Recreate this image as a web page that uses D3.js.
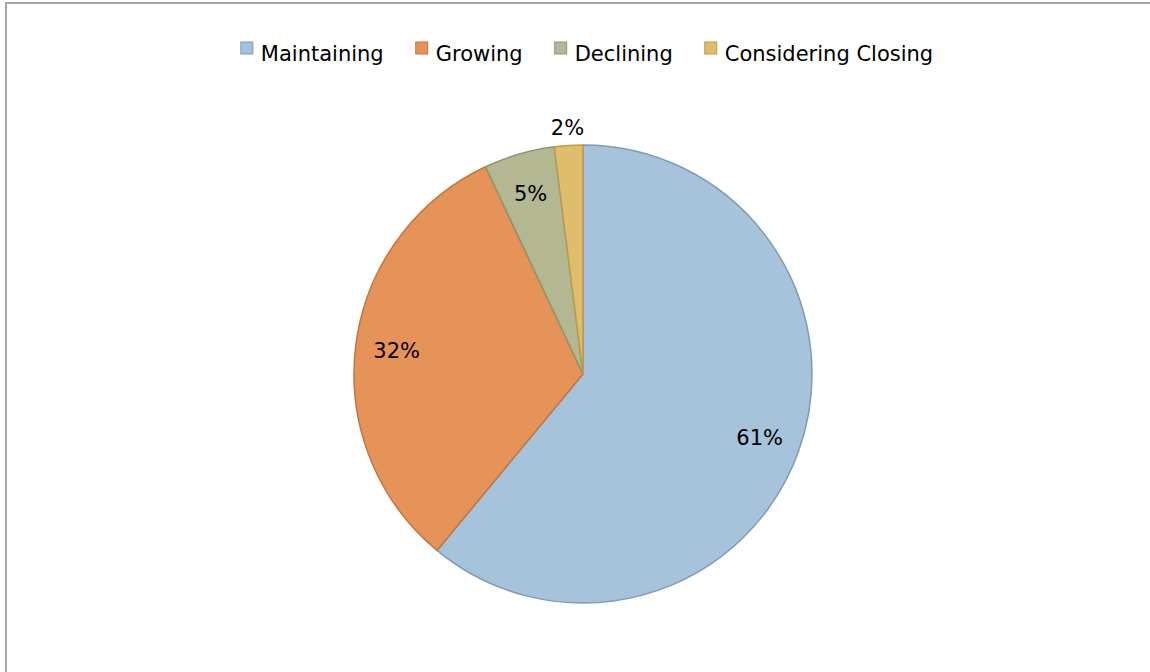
<!DOCTYPE html>
<html>
<head>
<meta charset="utf-8">
<script src="https://cdn.jsdelivr.net/npm/d3@7"></script>
<style>
  html, body { margin: 0; padding: 0; background: #fff; }
  svg { display: block; }
  text { font-family: "DejaVu Sans", "Open Sans", sans-serif; fill: #000; }
</style>
</head>
<body>
<svg id="chart" width="1150" height="672"></svg>
<script>
// Business outlook shares
const categories = ["Maintaining", "Growing", "Declining", "Considering Closing"];
const shares = [61, 32, 5, 2];
const fills = ["#a7c2db", "#e6935a", "#b3b893", "#e0bd6c"];
const strokes = ["#7f9bb4", "#c4743e", "#8e9470", "#bb9a4c"];

const W = 1150, H = 672;
const cx = 583, cy = 374, R = 229;

const svg = d3.select("#chart");

// chart frame (runs off the right and bottom edges)
svg.append("rect")
  .attr("x", 6).attr("y", 3)
  .attr("width", W + 20).attr("height", H + 20)
  .attr("fill", "none")
  .attr("stroke", "#a6a6a6")
  .attr("stroke-width", 2);

const data = categories.map((c, i) => ({ name: c, value: shares[i], fill: fills[i], stroke: strokes[i] }));

const pie = d3.pie().sort(null).value(d => d.value);
const arcs = pie(data);
const arc = d3.arc().innerRadius(0).outerRadius(R);
const labelArc = d3.arc().innerRadius(R * 0.82).outerRadius(R * 0.82);
const outsideArc = d3.arc().innerRadius(R + 18).outerRadius(R + 18);

const g = svg.append("g").attr("transform", `translate(${cx},${cy})`);

g.selectAll("path.slice")
  .data(arcs)
  .join("path")
  .attr("class", "slice")
  .attr("d", arc)
  .attr("fill", d => d.data.fill)
  .attr("stroke", d => d.data.stroke)
  .attr("stroke-width", 1.5)
  .attr("stroke-linejoin", "round");

g.selectAll("text.pct")
  .data(arcs)
  .join("text")
  .attr("class", "pct")
  .attr("transform", d => {
    const p = (d.data.value < 3 ? outsideArc : labelArc).centroid(d);
    return `translate(${p[0]},${p[1]})`;
  })
  .attr("text-anchor", "middle")
  .attr("dy", "0.36em")
  .style("font-size", "21px")
  .text(d => d.data.value + "%");

// legend row
const legend = svg.append("g").attr("class", "legend");
const items = legend.selectAll("g.item")
  .data(data)
  .join("g")
  .attr("class", "item");

items.append("rect")
  .attr("width", 12).attr("height", 12)
  .attr("y", -19)
  .attr("fill", d => d.fill)
  .attr("stroke", d => d.stroke)
  .attr("stroke-width", 1);

items.append("text")
  .attr("x", 20)
  .attr("y", 0)
  .style("font-size", "21px")
  .text(d => d.name);

let x = 0;
const gap = 32;
items.each(function () {
  const w = d3.select(this).select("text").node().getComputedTextLength();
  d3.select(this).attr("transform", `translate(${x},0)`);
  x += 20 + w + gap;
});
const total = x - gap;
legend.attr("transform", `translate(${(242 + 932) / 2 - total / 2},61)`);
</script>
</body>
</html>
